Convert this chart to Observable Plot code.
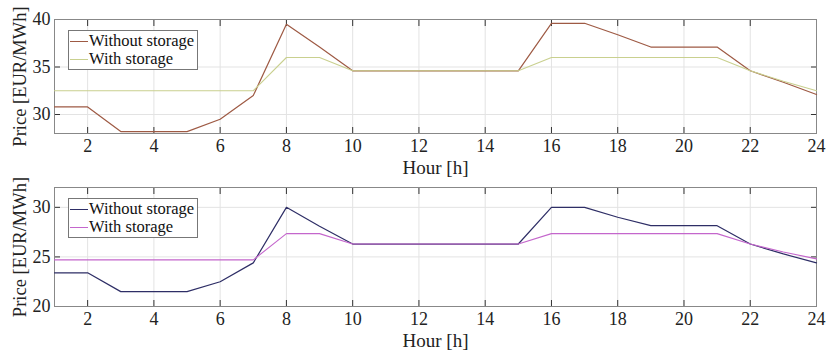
<!DOCTYPE html>
<html>
<head>
<meta charset="utf-8">
<script src="https://cdn.jsdelivr.net/npm/d3@7"></script>
<script src="https://cdn.jsdelivr.net/npm/@observablehq/plot@0.6"></script>
<style>
  body { margin: 0; background: #fff; }
  #wrap { position: relative; width: 826px; height: 355px; font-family: "Liberation Serif", "DejaVu Serif", serif; }
  .panel { display: block; overflow: visible; }
  .legend { position: absolute; background: #fff; border: 1px solid #777; font-size: 16.5px; line-height: 18px; padding: 1px 3px 1px 1px; color: #111; }
  .legend .row { display: flex; align-items: center; white-space: nowrap; }
  .legend .sw { display: inline-block; width: 18px; height: 0; border-top: 1px solid; margin-right: 1px; }
</style>
</head>
<body>
<div id="wrap"></div>
<script>
const hours = [1,2,3,4,5,6,7,8,9,10,11,12,13,14,15,16,17,18,19,20,21,22,23,24];
const xTicks = [2,4,6,8,10,12,14,16,18,20,22,24];
const seriesNames = ["Without storage", "With storage"];

const topWithout = [30.8,30.8,28.2,28.2,28.2,29.5,32.0,39.5,37.1,34.6,34.6,34.6,34.6,34.6,34.6,39.6,39.6,38.4,37.1,37.1,37.1,34.6,33.4,32.1];
const topWith    = [32.5,32.5,32.5,32.5,32.5,32.5,32.5,36.0,36.0,34.6,34.6,34.6,34.6,34.6,34.6,36.0,36.0,36.0,36.0,36.0,36.0,34.6,33.5,32.5];
const topYTicks = [30, 35, 40];
const topDomain = [28, 40];
const topColors = ["#9E5A44", "#C9D08F"];

const botWithout = [23.4,23.4,21.5,21.5,21.5,22.5,24.4,30.0,28.1,26.3,26.3,26.3,26.3,26.3,26.3,30.0,30.0,29.0,28.15,28.15,28.15,26.3,25.3,24.4];
const botWith    = [24.7,24.7,24.7,24.7,24.7,24.7,24.7,27.35,27.35,26.3,26.3,26.3,26.3,26.3,26.3,27.35,27.35,27.35,27.35,27.35,27.35,26.3,25.5,24.8];
const botYTicks = [20, 25, 30];
const botDomain = [20, 32];
const botColors = ["#2E2E66", "#C466CC"];

const xLabel = "Hour [h]";
const yLabel = "Price [EUR/MWh]";

function makeRows(a, b) {
  return hours.flatMap((h, i) => [
    {hour: h, price: a[i], series: seriesNames[0]},
    {hour: h, price: b[i], series: seriesNames[1]}
  ]);
}

function panel({rows, domain, yTicks, colors, height, marginTop, marginBottom}) {
  return Plot.plot({
    width: 826,
    height,
    marginTop,
    marginBottom,
    marginLeft: 54,
    marginRight: 10,
    style: {fontFamily: '"Liberation Serif", serif', fontSize: "18px", color: "#222", background: "#fff", overflow: "visible"},
    x: {domain: [1, 24]},
    y: {domain},
    color: {domain: seriesNames, range: colors},
    marks: [
      Plot.gridX(xTicks, {stroke: "#e3e3e3", strokeOpacity: 1}),
      Plot.gridY(yTicks, {stroke: "#e3e3e3", strokeOpacity: 1}),
      Plot.axisX(xTicks, {anchor: "bottom", tickSize: 0, tickPadding: 6, fontSize: 18, label: null, fill: "#222"}),
      Plot.axisX(xTicks, {anchor: "bottom", tickSize: -6, text: null, label: null, stroke: "#333"}),
      Plot.axisX(xTicks, {anchor: "top", tickSize: -6, text: null, label: null, stroke: "#333"}),
      Plot.axisY(yTicks, {anchor: "left", tickSize: 0, tickPadding: 4, fontSize: 18, label: null, fill: "#222"}),
      Plot.axisY(yTicks, {anchor: "left", tickSize: -6, text: null, label: null, stroke: "#333"}),
      Plot.axisY(yTicks, {anchor: "right", tickSize: -6, text: null, label: null, stroke: "#333"}),
      Plot.frame({stroke: "#888"}),
      Plot.lineY(rows.filter(d => d.series === seriesNames[0]), {x: "hour", y: "price", stroke: "series", strokeWidth: 1.2}),
      Plot.lineY(rows.filter(d => d.series === seriesNames[1]), {x: "hour", y: "price", stroke: "series", strokeWidth: 1.1}),
      Plot.text([xLabel], {frameAnchor: "bottom", dy: 40.5, fontSize: 19, fill: "#222", text: d => d}),
      Plot.text([yLabel], {frameAnchor: "left", dx: -34, rotate: -90, textAnchor: "middle", fontSize: 18.5, fill: "#222", text: d => d})
    ]
  });
}

const wrap = document.getElementById("wrap");
const p1 = panel({rows: makeRows(topWithout, topWith), domain: topDomain, yTicks: topYTicks, colors: topColors, height: 178, marginTop: 19, marginBottom: 45});
const p2 = panel({rows: makeRows(botWithout, botWith), domain: botDomain, yTicks: botYTicks, colors: botColors, height: 177, marginTop: 9, marginBottom: 49});
p1.classList.add("panel"); p2.classList.add("panel");
wrap.appendChild(p1);
wrap.appendChild(p2);

function legend(top, left, colors) {
  const div = document.createElement("div");
  div.className = "legend";
  div.style.top = top + "px";
  div.style.left = left + "px";
  seriesNames.forEach((n, i) => {
    const row = document.createElement("div");
    row.className = "row";
    const sw = document.createElement("span");
    sw.className = "sw";
    sw.style.borderTopColor = colors[i];
    row.appendChild(sw);
    row.appendChild(document.createTextNode(n));
    div.appendChild(row);
  });
  wrap.appendChild(div);
}
legend(30, 68, topColors);
legend(198, 68, botColors);
</script>
</body>
</html>
